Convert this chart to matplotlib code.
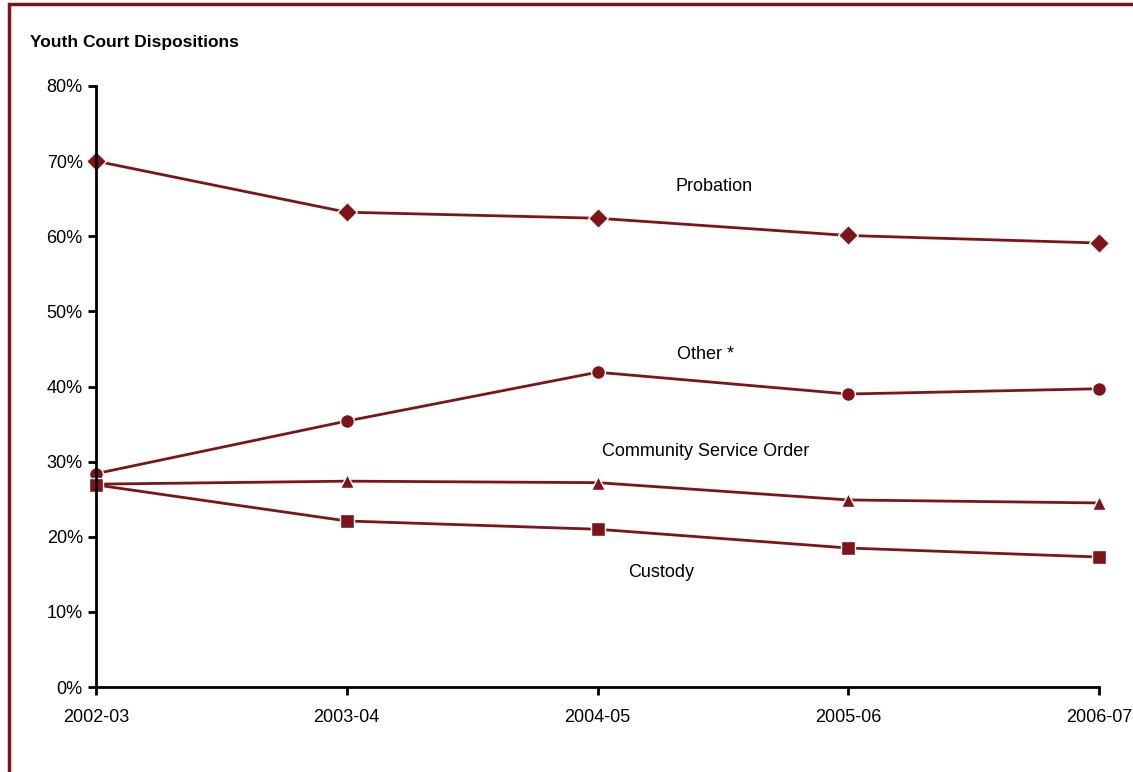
import matplotlib.pyplot as plt
from matplotlib.patches import Rectangle

# --- data (percent of dispositions) ---
years = ["2002-03", "2003-04", "2004-05", "2005-06", "2006-07"]
probation = [70.0, 63.2, 62.4, 60.1, 59.1]
other = [28.4, 35.4, 41.9, 39.0, 39.7]
community_service = [27.0, 27.4, 27.2, 24.9, 24.5]
custody = [26.9, 22.1, 21.0, 18.5, 17.3]

plt.rcParams["font.family"] = ["Liberation Sans", "DejaVu Sans"]

red = "#7d1518"

fig = plt.figure(figsize=(11.33, 7.72), dpi=100)
ax = fig.add_axes([96 / 1133, 85 / 772, 1003 / 1133, 601 / 772])

x = list(range(len(years)))
style = dict(color=red, linewidth=2, markeredgecolor="white", markeredgewidth=1, clip_on=False)
ax.plot(x, probation, marker="D", markersize=10, **style)
ax.plot(x, other, marker="o", markersize=10, **style)
ax.plot(x, community_service, marker="^", markersize=10, **style)
ax.plot(x, custody, marker="s", markersize=10, **style)

# series labels
ax.text(2.465, 66.6, "Probation", ha="center", va="center", fontsize=13)
ax.text(2.43, 44.2, "Other *", ha="center", va="center", fontsize=13)
ax.text(2.43, 31.3, "Community Service Order", ha="center", va="center", fontsize=13)
ax.text(2.253, 15.3, "Custody", ha="center", va="center", fontsize=13)

ax.set_xlim(0, 4)
ax.set_ylim(0, 80)
ax.set_xticks(x)
ax.set_xticklabels(years)
ax.set_yticks(range(0, 81, 10))
ax.set_yticklabels([f"{v}%" for v in range(0, 81, 10)])
ax.tick_params(axis="both", labelsize=13, width=2, length=6, direction="out", color="black")
ax.tick_params(axis="x", pad=10)
for s in ["top", "right"]:
    ax.spines[s].set_visible(False)
for s in ["left", "bottom"]:
    ax.spines[s].set_linewidth(2)

fig.text(30 / 1133, 1 - 43 / 772, "Youth Court Dispositions", fontsize=12.5, fontweight="bold",
         ha="left", va="center")

# dark red frame (only top/left inside the picture)
fig.patches.append(Rectangle((9 / 1133, -0.05), 1.1, 1 - 4 / 772 + 0.05, transform=fig.transFigure,
                             fill=False, edgecolor=red, linewidth=2.5))

fig.savefig("out.png", dpi=100)
